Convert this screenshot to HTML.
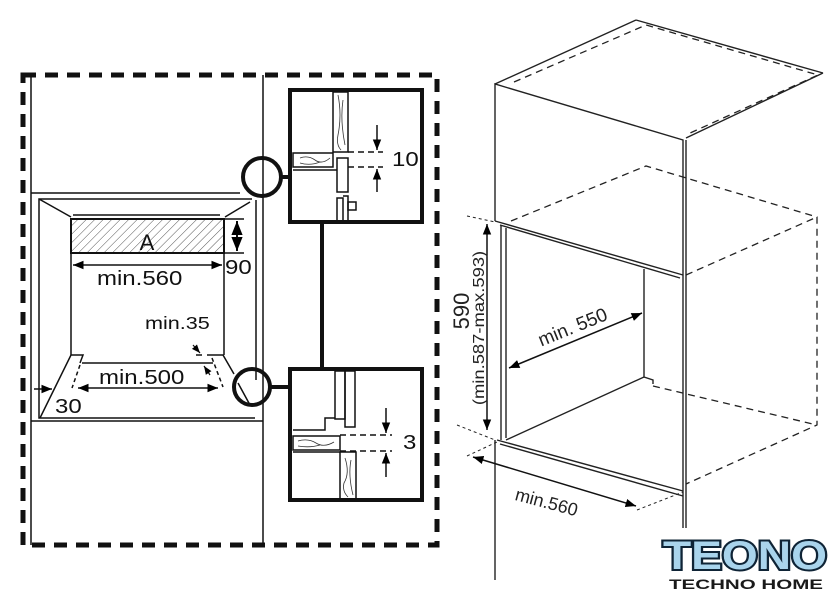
<!DOCTYPE html>
<html><head><meta charset="utf-8"><style>
html,body{margin:0;padding:0;background:#fff;}
svg{display:block;font-family:"Liberation Sans",sans-serif;}
</style></head><body>
<svg width="840" height="601" viewBox="0 0 840 601" xmlns="http://www.w3.org/2000/svg">
<defs>
<pattern id="h" width="6" height="6" patternUnits="userSpaceOnUse" patternTransform="rotate(45)">
<rect width="6" height="6" fill="#fff"/><line x1="0" y1="0" x2="0" y2="6" stroke="#555" stroke-width="1"/></pattern>
<marker id="a" viewBox="0 0 10 10" refX="10" refY="5" markerWidth="7" markerHeight="7" orient="auto-start-reverse"><path d="M0,1 L10,5 L0,9z" fill="#000"/></marker>
</defs>
<g fill="none" stroke="#111">
<rect x="23" y="75" width="414" height="470" stroke-width="5" stroke-dasharray="13,9"/>
<line x1="31" y1="75" x2="31" y2="545" stroke-width="1.5"/>
<line x1="263" y1="75" x2="263" y2="545" stroke-width="1.5"/>
<line x1="31" y1="193" x2="240" y2="193" stroke-width="1.5"/>
<line x1="31" y1="421" x2="263" y2="421" stroke-width="1.5"/>
<line x1="256" y1="200" x2="256" y2="380" stroke-width="1.5"/>
<polyline points="252,199 39,199 39,418 255,418" stroke-width="1.5"/>
<line x1="39" y1="199" x2="71" y2="217" stroke-width="1.5"/>
<line x1="250" y1="202" x2="225" y2="217" stroke-width="1.5"/>
<line x1="73" y1="215" x2="220" y2="215" stroke-width="1.5"/>
<rect x="71" y="219" width="153" height="34" fill="url(#h)" stroke-width="2"/>
<line x1="224" y1="219" x2="244" y2="219" stroke-width="1.5"/>
<line x1="224" y1="253" x2="244" y2="253" stroke-width="1.5"/>
<line x1="237" y1="221" x2="237" y2="251" stroke-width="2" marker-start="url(#a)" marker-end="url(#a)"/>
<line x1="73" y1="265" x2="222" y2="265" stroke-width="1.5" marker-start="url(#a)" marker-end="url(#a)"/>
<line x1="71" y1="253" x2="71" y2="355" stroke-width="1.5"/>
<line x1="224" y1="253" x2="224" y2="355" stroke-width="1.5"/>
<polyline points="40,418 71,355 83,355 80,363" stroke-width="1.5"/>
<line x1="82" y1="363" x2="213" y2="363" stroke-width="1.5"/>
<line x1="80" y1="365" x2="72" y2="388" stroke-width="1.5" stroke-dasharray="4,3"/>
<polyline points="207,355 223,355 234,374" stroke-width="1.5"/>
<line x1="212" y1="358" x2="223" y2="387" stroke-width="1.5" stroke-dasharray="4,3"/>
<line x1="196" y1="355" x2="202" y2="355" stroke-width="1.5"/>
<line x1="193" y1="345" x2="200" y2="353" stroke-width="1.2" marker-end="url(#a)"/>
<line x1="210" y1="375" x2="204" y2="366" stroke-width="1.2" marker-end="url(#a)"/>
<line x1="78" y1="388" x2="218" y2="388" stroke-width="1.5" marker-start="url(#a)" marker-end="url(#a)"/>
<line x1="34" y1="389" x2="52" y2="389" stroke-width="1.5" marker-end="url(#a)"/>
<circle cx="262" cy="177" r="19" stroke-width="4" fill="none"/>
<line x1="281" y1="177" x2="290" y2="177" stroke-width="4"/>
<circle cx="252" cy="387" r="18" stroke-width="4" fill="none"/>
<line x1="238" y1="383" x2="250" y2="405" stroke-width="1.5"/>
<line x1="270" y1="387" x2="290" y2="387" stroke-width="4"/>
<line x1="322" y1="222" x2="322" y2="368" stroke-width="4"/>
<rect x="290" y="90" width="132" height="132" stroke-width="4"/>
<rect x="333" y="92" width="15" height="60" stroke-width="1.5"/>
<rect x="293" y="153" width="40" height="14" stroke-width="1.5"/>
<line x1="293" y1="170" x2="337" y2="170" stroke-width="1.5"/>
<rect x="337" y="158" width="11" height="34" stroke-width="1.5"/>
<polyline points="337,220 337,198 343,198 343,220" stroke-width="1.5"/>
<polyline points="343,196 348,196 348,220" stroke-width="1.5"/>
<rect x="348" y="202" width="8" height="8" stroke-width="1.5"/>
<line x1="348" y1="152" x2="383" y2="152" stroke-width="1.5" stroke-dasharray="6,4"/>
<line x1="348" y1="167" x2="383" y2="167" stroke-width="1.5" stroke-dasharray="6,4"/>
<line x1="377" y1="125" x2="377" y2="150" stroke-width="1.5" marker-end="url(#a)"/>
<line x1="377" y1="192" x2="377" y2="169" stroke-width="1.5" marker-end="url(#a)"/>
<rect x="290" y="369" width="132" height="131" stroke-width="4"/>
<rect x="335" y="371" width="10" height="48" stroke-width="1.5"/>
<rect x="345" y="371" width="10" height="56" stroke-width="1.5"/>
<polyline points="335,418 325,418 325,430 293,430" stroke-width="1.5"/>
<rect x="293" y="436" width="47" height="14" stroke-width="1.5"/>
<line x1="293" y1="452" x2="340" y2="452" stroke-width="1.5"/>
<rect x="340" y="452" width="16" height="47" stroke-width="1.5"/>
<line x1="340" y1="435" x2="392" y2="435" stroke-width="1.5" stroke-dasharray="6,4"/>
<line x1="340" y1="451" x2="392" y2="451" stroke-width="1.5" stroke-dasharray="6,4"/>
<line x1="386" y1="408" x2="386" y2="433" stroke-width="1.5" marker-end="url(#a)"/>
<line x1="386" y1="477" x2="386" y2="453" stroke-width="1.5" marker-end="url(#a)"/>
</g>
<g fill="none" stroke="#333">
<path d="M300 158 q8 -3 15 2 t15 -2 M300 163 q10 3 20 -1" stroke-width="0.8"/>
<path d="M338 95 q4 20 0 40 q-2 10 3 15 M343 100 q-3 20 2 45" stroke-width="0.8"/>
<path d="M298 441 q10 -3 18 2 t18 -1 M298 446 q12 2 22 -1" stroke-width="0.8"/>
<path d="M345 458 q5 15 -1 25 q-2 8 4 14 M351 460 q-3 15 2 35" stroke-width="0.8"/>
</g>
<g fill="#111">
<text x="147" y="250" text-anchor="middle" font-size="22">A</text>
<text transform="translate(97,285) scale(1.2,1)" font-size="20">min.560</text>
<text transform="translate(225,274) scale(1.2,1)" font-size="20">90</text>
<text transform="translate(145,329) scale(1.2,1)" font-size="18">min.35</text>
<text transform="translate(99,384) scale(1.2,1)" font-size="20">min.500</text>
<text transform="translate(55,413) scale(1.2,1)" font-size="20">30</text>
<text transform="translate(392,166) scale(1.2,1)" font-size="20">10</text>
<text transform="translate(403,449) scale(1.2,1)" font-size="20">3</text>
</g>
<g fill="none" stroke="#222" stroke-width="1.4">
<polyline points="495,221 495,84 683,140 683,528"/>
<line x1="686" y1="140" x2="686" y2="528"/>
<line x1="495" y1="84" x2="636" y2="20"/>
<line x1="636" y1="20" x2="823" y2="73"/>
<line x1="823" y1="73" x2="686" y2="138"/>
<line x1="495" y1="221" x2="683" y2="275"/>
<line x1="500" y1="225" x2="680" y2="278"/>
<line x1="501" y1="225" x2="501" y2="440"/>
<line x1="506" y1="228" x2="506" y2="438"/>
<line x1="495" y1="440" x2="495" y2="580"/>
<line x1="497" y1="440" x2="683" y2="491"/>
<line x1="500" y1="444" x2="683" y2="496"/>
<polyline points="644,269 644,377 653,380 653,384"/>
<line x1="506" y1="440" x2="644" y2="377"/>
</g>
<g fill="none" stroke="#222" stroke-width="1.3" stroke-dasharray="7,5">
<polyline points="514,82 646,25 818,75 688,134"/>
<polyline points="511,221 646,166 817,217 817,425 686,484"/>
<line x1="686" y1="275" x2="817" y2="217"/>
<line x1="653" y1="386" x2="817" y2="425"/>
</g>
<g fill="none" stroke="#222" stroke-width="1" stroke-dasharray="3,3">
<line x1="467" y1="216" x2="495" y2="222"/>
<line x1="457" y1="425" x2="495" y2="440"/>
<line x1="467" y1="456" x2="497" y2="442"/>
<line x1="637" y1="510" x2="683" y2="492"/>
</g>
<g stroke="#111" stroke-width="1.5">
<line x1="487" y1="224" x2="487" y2="430" marker-start="url(#a)" marker-end="url(#a)"/>
<line x1="509" y1="368" x2="642" y2="313" marker-start="url(#a)" marker-end="url(#a)"/>
<line x1="473" y1="457" x2="636" y2="506" marker-start="url(#a)" marker-end="url(#a)"/>
</g>
<g fill="#222">
<text transform="translate(469,311) rotate(-90)" text-anchor="middle" font-size="22">590</text>
<text transform="translate(484,328) rotate(-90) scale(1.15,1)" text-anchor="middle" font-size="16">(min.587-max.593)</text>
<text transform="translate(575,333) rotate(-22)" text-anchor="middle" font-size="19">min. 550</text>
<text transform="translate(545,508) rotate(15)" text-anchor="middle" font-size="18">min.560</text>
</g>
<text x="745" y="569" text-anchor="middle" font-size="40" font-weight="bold" fill="#a9d4ec" stroke="#0f2436" stroke-width="4" paint-order="stroke" textLength="164" lengthAdjust="spacingAndGlyphs">TEONO</text>
<text x="746" y="589" text-anchor="middle" font-size="14" font-weight="bold" fill="#1a1a1a" textLength="154" lengthAdjust="spacingAndGlyphs">TECHNO HOME</text>
</svg>
</body></html>
